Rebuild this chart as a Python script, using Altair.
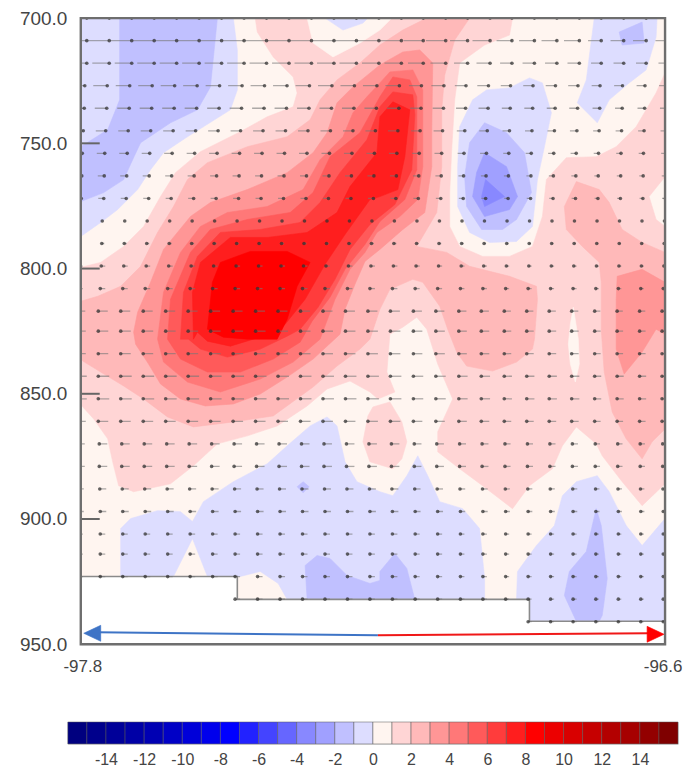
import altair as alt
import pandas as pd

LON0, LON1, P0, P1 = -97.8, -96.6, 700.0, 950.0
FX0, FW, FY0, FH = 80.0, 586.0, 18.0, 628.0

def lon(x):
    return LON0 + (x - FX0) / FW * (LON1 - LON0)

def prs(y):
    return P0 + (y - FY0) / FH * (P1 - P0)

C0 = "#FFF5F0"
L1 = "#FFD5D5"; L2 = "#FFB9B9"; L3 = "#FF9696"; L4 = "#FF7878"
L5 = "#FF5A5A"; L6 = "#FF3C3C"; L7 = "#FF1E1E"; L8 = "#FF0000"
N1 = "#DDDDFF"; N2 = "#C0C0FF"; N3 = "#A0A0FF"; N4 = "#8888FF"

base = [(80,18),(666,18),(666,646),(80,646)]
pink1 = [(80,268),(100,263),(123,247),(143,227),(160,197),(175,173),(200,152),(240,132),(267,117),(293,107),(297,93),(293,77),(273,57),(257,32),(255,18),(513,18),(510,35),(485,45),(460,63),(455,100),(452,150),(450,193),(450,227),(460,247),(483,257),(510,257),(533,247),(543,217),(547,180),(567,158),(597,157),(617,147),(637,127),(657,93),(666,73),(666,177),(650,197),(657,220),(666,227),(666,485),(643,507),(623,483),(603,457),(597,445),(577,428),(563,447),(553,470),(530,487),(513,510),(483,487),(460,470),(438,453),(438,433),(453,400),(438,365),(427,330),(417,318),(403,328),(390,335),(387,373),(395,393),(378,400),(370,393),(350,382),(327,390),(307,407),(277,427),(247,437),(217,445),(193,467),(170,485),(147,490),(133,493),(118,487),(112,463),(107,440),(93,420),(82,408),(80,405)]
pink_island = [(373,408),(390,403),(402,423),(407,443),(402,460),(393,470),(370,463),(363,443),(368,417)]
white_top = [(307,18),(313,43),(333,57),(360,43),(380,30),(392,18)]
white_sliver = [(574,308),(579,340),(580,365),(576,383),(571,365),(569,345),(571,325)]
pink2 = [(80,302),(97,297),(120,287),(140,267),(157,233),(173,207),(187,180),(207,163),(247,147),(287,137),(310,120),(320,100),(337,80),(360,63),(380,45),(403,30),(427,18),(470,18),(455,40),(445,75),(442,110),(442,167),(437,213),(417,247),(447,253),(470,267),(510,277),(537,287),(538,300),(535,340),(533,350),(517,363),(493,372),(467,367),(457,353),(448,330),(440,307),(423,283),(413,280),(390,290),(380,310),(370,340),(360,350),(337,367),(313,388),(273,417),(233,423),(193,428),(167,418),(143,400),(123,387),(100,373),(82,362),(80,360)]
pink2_right = [(565,207),(577,182),(600,190),(610,203),(623,230),(643,243),(666,253),(666,430),(653,443),(643,460),(627,440),(613,413),(605,373),(602,330),(602,283),(600,263),(583,247),(567,230)]
pink3_right = [(617,300),(618,277),(643,270),(666,283),(666,335),(657,330),(643,353),(625,375),(617,350),(617,330)]
pink3 = [(133,333),(137,313),(150,283),(163,250),(190,217),(210,203),(247,190),(287,173),(313,153),(327,133),(337,103),(353,87),(380,65),(403,52),(420,50),(433,63),(432,133),(432,167),(425,213),(403,230),(380,250),(365,262),(355,285),(345,310),(340,335),(313,360),(287,378),(260,395),(233,405),(205,407),(180,400),(160,385),(148,365),(135,345)]
red4 = [(157,340),(163,293),(180,253),(200,227),(227,213),(267,207),(303,190),(320,160),(343,137),(353,113),(367,97),(380,83),(390,72),(413,70),(423,90),(423,167),(418,200),(400,217),(377,233),(365,253),(350,270),(335,300),(320,340),(293,363),(260,380),(220,393),(187,383),(163,363)]
red5 = [(167,340),(170,300),(190,253),(210,230),(247,220),(290,213),(313,193),(330,157),(360,133),(380,97),(393,77),(410,80),(417,97),(417,170),(405,200),(380,222),(365,245),(345,270),(330,298),(312,322),(300,343),(273,360),(240,373),(207,373),(180,360)]
red6 = [(180,340),(183,293),(197,257),(220,233),(260,230),(300,223),(320,203),(340,173),(367,140),(380,107),(393,92),(413,95),(415,115),(412,170),(395,205),(370,225),(350,250),(335,280),(318,308),(300,330),(287,337),(260,350),(227,358),(200,350),(188,340)]
red7 = [(193,340),(192,293),(200,263),(230,238),(267,238),(307,233),(337,213),(350,187),(377,153),(380,117),(393,102),(410,110),(405,157),(398,190),(380,197),(370,200),(345,235),(325,265),(305,300),(285,325),(273,333),(253,340),(230,347),(207,342),(197,333)]
red8 = [(207,330),(212,283),(220,263),(250,252),(287,252),(310,263),(297,287),(287,320),(277,340),(247,340),(223,338)]

blue1_tl = [(80,18),(233,18),(237,50),(237,90),(230,110),(203,127),(187,137),(163,153),(150,170),(137,190),(117,210),(100,223),(80,237)]
blue2_tl = [(119,18),(119,100),(107,130),(80,147),(80,202),(103,193),(123,180),(132,160),(140,143),(170,123),(197,110),(210,87),(217,18)]
blue_top = [(325,18),(343,30),(363,23),(368,18)]
blue1_tr = [(595,18),(587,80),(578,103),(598,123),(610,100),(630,83),(647,70),(657,37),(658,18)]
blue2_tr = [(620,32),(643,22),(645,43),(623,45)]
blue1_mid = [(530,78),(543,83),(552,113),(545,147),(538,180),(533,227),(517,242),(490,243),(470,233),(458,207),(458,167),(460,127),(473,100),(487,90),(510,88)]
blue2_mid = [(485,123),(507,133),(525,153),(532,193),(517,220),(503,230),(482,230),(467,207),(465,177),(470,143)]
blue3_mid = [(485,153),(507,167),(518,197),(510,210),(485,217),(473,197),(477,173)]
blue4_mid = [(486,180),(505,197),(485,207),(482,197)]
blue1_low = [(120,578),(120,530),(130,520),(157,512),(180,513),(192,523),(203,503),(233,483),(267,465),(287,447),(310,427),(327,418),(337,427),(345,463),(357,483),(380,493),(393,497),(407,477),(418,457),(428,477),(440,503),(463,510),(480,530),(485,580),(485,601),(287,601),(278,585),(260,573),(240,578),(207,578),(192,540),(173,578)]
blue1_lr = [(517,601),(518,573),(537,547),(555,527),(563,497),(577,483),(598,477),(610,493),(627,527),(643,547),(666,520),(666,623),(530,623),(530,601)]
blue2_spot = [(303,483),(309,488),(303,494),(297,488)]
blue2_low = [(305,567),(317,557),(330,560),(347,577),(370,585),(380,582),(380,573),(395,555),(407,570),(415,601),(307,601)]
blue2_lr = [(597,510),(602,527),(608,580),(603,617),(600,623),(577,623),(565,597),(570,573),(587,553),(593,527)]
terrain = [(80,578),(237,578),(237,601),(530,601),(530,623),(666,623),(666,646),(80,646)]

POLYS = [
    (base, C0), (pink1, L1), (pink_island, L1), (white_top, C0), (white_sliver, C0),
    (pink2, L2), (pink2_right, L2), (pink3_right, L3), (pink3, L3), (red4, L4),
    (red5, L5), (red6, L6), (red7, L7), (red8, L8),
    (blue1_tl, N1), (blue2_tl, N2), (blue_top, N1), (blue1_tr, N1), (blue2_tr, N2),
    (blue1_mid, N1), (blue2_mid, N2), (blue3_mid, N3), (blue4_mid, N4),
    (blue1_low, N1), (blue1_lr, N1), (blue2_spot, N2), (blue2_low, N2), (blue2_lr, N2),
    (terrain, "#FFFFFF"),
]

# wind vectors: grid, and per-row head/tail reach
LEVELS = [700,709,718,727,736,745,754,763,772,781,790,799,808,817,825,834,843,852,861,870,879,888,897,906,914,923,932,941]
HEAD = [6,6,6,4,3.5,2.5,1.5,1,0.5,-1,-1.5,-2,-3,-5,-5,-5,-5,-5,-5,-4,-4,-3.5,-3,-3,-3,-3,-3,-3]
TAIL = [-16,-16,-11,-10,-8.5,-7.5,-6.5,-5.5,-5,-1,1,2,2,4.5,5,5,6,6,5,4,4,3,3,2,2,2,2,2]
COL_W = [1,1,1,1,1,1,1,1,1,1,1,1,1,1,1,0.9,0.9,0.8,0.8,0.7,0.7,0.7,0.7,0.6,0.6,0.6,0.6]
FIRST_COL = {26: 7, 27: 20}
LON_STEP = (LON1 - LON0) / 26

# colour bar
BAR_COLORS = ["#00007F","#00008C","#000099","#0000A6","#0000B3","#0000C6","#0000D9","#0000EC",
              "#0000FF","#2222FF","#4444FF","#6666FF","#8888FF","#A0A0FF","#C0C0FF","#DDDDFF",
              "#FFF5F0","#FFD5D5","#FFB9B9","#FF9696","#FF7878","#FF5A5A","#FF3C3C","#FF1E1E",
              "#FF0000","#EC0000","#D90000","#C60000","#B30000","#A60000","#930000","#7F0000"]
BAR_EDGES = list(range(-16, 16))
BAR_TICKS = list(range(-14, 16, 2))
Y_TICKS = [700, 750, 800, 850, 900, 950]
X_LABELS = ["-97.8", "-96.6"]
X_TICKS = [LON0, LON1]

FONT = "Liberation Sans"
TXT = "#444444"

x_scale = alt.Scale(domain=[LON0, LON1], nice=False, zero=False)
y_scale = alt.Scale(domain=[P0, P1], reverse=True, nice=False, zero=False)
X = alt.X("lon:Q", scale=x_scale, axis=None)
Y = alt.Y("p:Q", scale=y_scale, axis=alt.Axis(values=Y_TICKS, format=".1f", title=None, grid=False, ticks=False,
          domain=False, labelFont=FONT, labelFontSize=19, labelColor=TXT, labelPadding=14))


def poly_layer(pts, color, sw=0.6):
    df = pd.DataFrame({"lon": [lon(a) for a, _ in pts], "p": [prs(b) for _, b in pts], "seq": range(len(pts))})
    return alt.Chart(df).mark_line(interpolate="linear-closed", fill=color, stroke=color, strokeWidth=sw, clip=True).encode(
        x=X, y=Y, order="seq:Q")


layers = [poly_layer(p, c) for p, c in POLYS]

# terrain outline
outline_pts = terrain[:6]
outline = pd.DataFrame({"lon": [lon(a) for a, _ in outline_pts], "p": [prs(b) for _, b in outline_pts], "seq": range(6)})
layers.append(alt.Chart(outline).mark_line(color="#8A8A8A", strokeWidth=1.6, clip=True).encode(x=X, y=Y, order="seq:Q"))

# arrows
rows = []
for i, lev in enumerate(LEVELS):
    for j in range(FIRST_COL.get(i, 0), 27):
        g = LON0 + j * LON_STEP
        rows.append({"p": lev, "lon": g + HEAD[i] * COL_W[j] * FW ** -1 * 1.2,
                     "lon2": g + TAIL[i] * COL_W[j] * FW ** -1 * 1.2})
arrows = pd.DataFrame(rows)
layers.append(alt.Chart(arrows).mark_rule(color="#777777", strokeWidth=1.3, opacity=0.6, clip=True).encode(x=X, x2="lon2:Q", y=Y))
layers.append(alt.Chart(arrows).mark_circle(color="#333333", size=13, opacity=0.75, clip=True).encode(x=X, y=Y))

# pressure ticks inside the left frame
tick_df = pd.DataFrame({"p": Y_TICKS[1:-1], "lon": [LON0] * 4, "lon2": [lon(99)] * 4})
layers.append(alt.Chart(tick_df).mark_rule(color="#666666", strokeWidth=2).encode(x=X, x2="lon2:Q", y=Y))

# direction arrow along the bottom
blue_line = pd.DataFrame({"lon": [lon(96), lon(378)], "p": [prs(634), prs(637)]})
red_line = pd.DataFrame({"lon": [lon(378), lon(650)], "p": [prs(637), prs(635)]})
layers.append(alt.Chart(blue_line).mark_line(color="#3E74C6", strokeWidth=2).encode(x=X, y=Y))
layers.append(alt.Chart(red_line).mark_line(color="#F01818", strokeWidth=2).encode(x=X, y=Y))
layers.append(poly_layer([(83,635),(100,627),(100,643)], "#3E74C6"))
layers.append(poly_layer([(665,636),(648,628),(648,644)], "#FF0000"))

# plot frame
frame = pd.DataFrame({"lon": [LON0, LON1, LON1, LON0], "p": [P0, P0, P1, P1], "seq": range(4)})
layers.append(alt.Chart(frame).mark_line(interpolate="linear-closed", color="#6E6E6E", strokeWidth=2.4).encode(x=X, y=Y, order="seq:Q"))

# longitude labels
xlab_l = pd.DataFrame({"lon": [X_TICKS[0]], "p": [P1], "t": [X_LABELS[0]]})
xlab_r = pd.DataFrame({"lon": [X_TICKS[1]], "p": [P1], "t": [X_LABELS[1]]})
for d, off in ((xlab_l, 2), (xlab_r, -2)):
    layers.append(alt.Chart(d).mark_text(font=FONT, fontSize=17, color=TXT, dx=off, dy=23, align="center").encode(x=X, y=Y, text="t:N"))

main = alt.layer(*layers).properties(width=586, height=628)

bar_df = pd.DataFrame({"a": BAR_EDGES, "b": [e + 1 for e in BAR_EDGES], "c": BAR_COLORS})
bar = alt.Chart(bar_df).mark_rect(stroke="#555555", strokeWidth=0.5).encode(
    x=alt.X("a:Q", scale=alt.Scale(domain=[-16, 16], nice=False, zero=False),
            axis=alt.Axis(values=BAR_TICKS, labelExpr="datum.value < 0 ? '-' + abs(datum.value) : '' + datum.value",
                          title=None, grid=False, ticks=False, domain=False, labelFont=FONT,
                          labelFontSize=16, labelColor=TXT, labelPadding=8)),
    x2="b:Q",
    color=alt.Color("c:N", scale=None, legend=None),
).properties(width=612, height=22)

chart = alt.vconcat(main, bar, spacing=78, center=True, bounds="flush").properties(
    padding={"left": 10, "top": -1, "right": 0, "bottom": 0}
).configure_view(stroke=None).configure(background="white")

chart.save("out.html", embed_options={"renderer": "svg", "actions": False})
